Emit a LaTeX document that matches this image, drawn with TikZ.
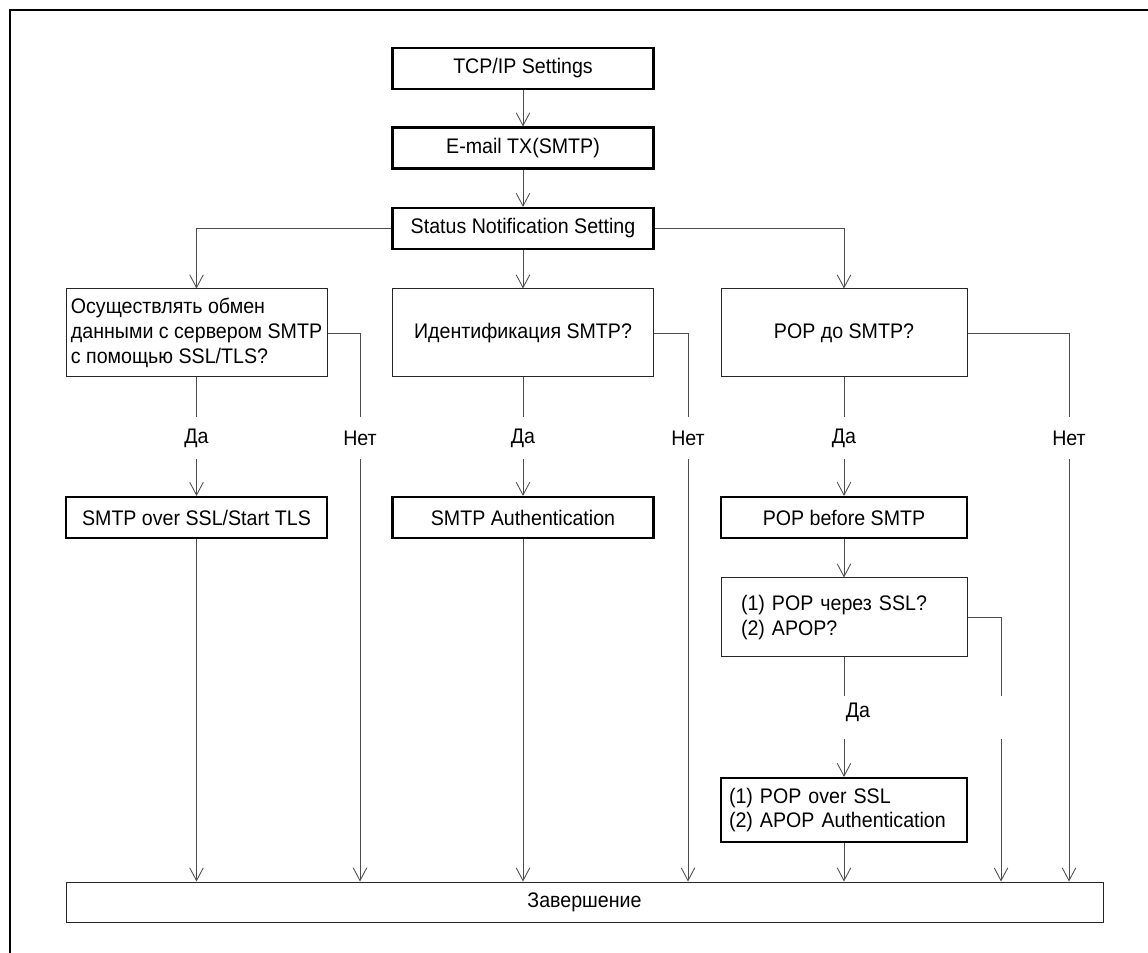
\documentclass[tikz,border=0pt]{standalone}
\usepackage{fontspec}
\setmainfont{Liberation Sans}[FakeStretch=0.93]
\usetikzlibrary{arrows.meta}

\begin{document}
\begin{tikzpicture}[
  every node/.style={font=\fontsize{15}{17.6}\selectfont},
  qbox/.style={draw=black!85,line width=0.7pt,minimum width=6.525cm,minimum height=2.200cm},
  sbox/.style={draw,line width=1.5pt,minimum width=6.525cm,minimum height=1.025cm},
  gap/.style={minimum height=1.050cm,inner sep=0pt},
  conn/.style={draw=black!70,line width=0.6pt,-{Straight Barb[length=0.32cm,width=0.34cm]}},
  wire/.style={draw=black!70,line width=0.6pt}
]
\useasboundingbox (0,0) rectangle (28.700,23.825);
% frame
\draw[line width=1.5pt] (0.250,0) -- (0.250,23.575) -- (28.700,23.575);

% top chain
\node[sbox] (tcp) at (13.075,22.113) {TCP/IP Settings};
\node[sbox] (email) at (13.075,20.125) {E-mail TX(SMTP)};
\node[sbox] (status) at (13.075,18.113) {Status Notification Setting};
\draw[conn] (tcp) -- (email);
\draw[conn] (email) -- (status);

% questions
\node[qbox,align=left] (q1) at (4.913,15.500)
  {Осуществлять обмен\\данными с сервером SMTP\\с помощью SSL/TLS?};
\node[qbox] (q2) at (13.075,15.500) {Идентификация SMTP?};
\node[qbox,minimum width=6.150cm] (q3) at (21.100,15.500) {POP до SMTP?};
\draw[conn] (status.west) -| (q1.north);
\draw[conn] (status) -- (q2);
\draw[conn] (status.east) -| (q3.north);

% yes / no labels
\node[gap] (d1) at (4.913,12.875) {Да};
\node[gap] (n1) at (9.000,12.875) {Нет};
\node[gap] (d2) at (13.075,12.875) {Да};
\node[gap] (n2) at (17.200,12.875) {Нет};
\node[gap] (d3) at (21.100,12.875) {Да};
\node[gap] (n3) at (26.725,12.875) {Нет};
\draw[wire] (q1) -- (d1);
\draw[wire] (q1.east) -| (n1.north);
\draw[wire] (q2) -- (d2);
\draw[wire] (q2.east) -| (n2.north);
\draw[wire] (q3) -- (d3);
\draw[wire] (q3.east) -| (n3.north);

% settings
\node[sbox] (a1) at (4.913,10.888) {SMTP over SSL/Start TLS};
\node[sbox] (a2) at (13.075,10.888) {SMTP Authentication};
\node[sbox,minimum width=6.150cm] (a3) at (21.100,10.888) {POP before SMTP};
\draw[conn] (d1) -- (a1);
\draw[conn] (d2) -- (a2);
\draw[conn] (d3) -- (a3);

% pop options
\node[qbox,minimum width=6.150cm,minimum height=1.975cm,text width=5.150cm,inner xsep=0.500cm,align=left] (q4) at (21.100,8.388)
  {(1) POP через SSL?\\(2) APOP?};
\draw[conn] (a3) -- (q4);
\node[gap] (d4) at (21.100,5.888) {};
\node (d4t) at (21.450,6.025) {Да};
\node[gap] (n4) at (25.025,5.888) {};
\draw[wire] (q4) -- (d4);
\draw[wire] (q4.east) -| (n4.north);
\node[sbox,minimum width=6.150cm,minimum height=1.600cm,text width=5.750cm,inner xsep=0.200cm,align=left] (a4) at (21.100,3.575)
  {(1) POP over SSL\\(2) APOP Authentication};
\draw[conn] (d4) -- (a4);

% end
\node[qbox,minimum width=25.925cm,minimum height=1.000cm] (fin) at (14.613,1.275) {Завершение};
\draw[conn] (a1) -- (a1 |- fin.north);
\draw[conn] (n1) -- (n1 |- fin.north);
\draw[conn] (a2) -- (a2 |- fin.north);
\draw[conn] (n2) -- (n2 |- fin.north);
\draw[conn] (a4) -- (a4 |- fin.north);
\draw[conn] (n4) -- (n4 |- fin.north);
\draw[conn] (n3) -- (n3 |- fin.north);
\end{tikzpicture}
\end{document}
